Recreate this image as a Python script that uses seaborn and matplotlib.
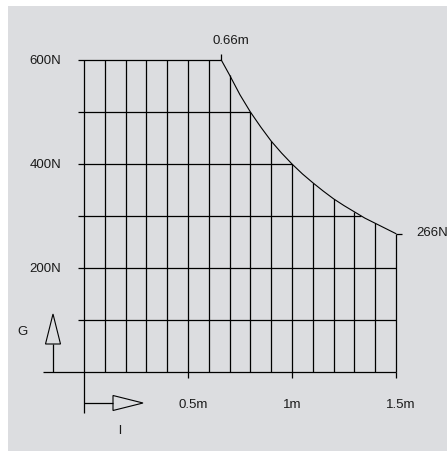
import numpy as np
import pandas as pd
import matplotlib
matplotlib.use("Agg")
import matplotlib.pyplot as plt
from matplotlib.patches import Polygon, Rectangle
import seaborn as sns

# ---- data ----
curve_l = [0.66, 0.70, 0.75, 0.80, 0.85, 0.90, 0.95, 1.00, 1.05, 1.10, 1.15,
           1.20, 1.25, 1.30, 1.35, 1.40, 1.45, 1.50]
curve_G = [600, 571, 533, 500, 471, 444, 421, 400, 381, 364, 348,
           333, 320, 308, 296, 286, 276, 266]
vgrid_x = [0.0, 0.1, 0.2, 0.3, 0.4, 0.5, 0.6, 0.7, 0.8, 0.9, 1.0, 1.1, 1.2, 1.3, 1.4, 1.5]
vgrid_top = [600, 600, 600, 600, 600, 600, 600, 571, 500, 444, 400, 364, 333, 308, 286, 266]
hgrid_y = [100, 200, 300, 400, 500, 600]
hgrid_right = [1.5, 1.5, 1.333, 1.0, 0.8, 0.66]
x_ticks = [0.5, 1.0, 1.5]
x_tick_labels = ["0.5m", "1m", "1.5m"]
y_ticks = [200, 400, 600]
y_tick_labels = ["200N", "400N", "600N"]

sns.set_style("white")
plt.rcParams['font.family'] = ['Liberation Sans', 'DejaVu Sans']

W, H = 447, 452
fig = plt.figure(figsize=(W / 100, H / 100), dpi=100)
fig.patch.set_facecolor("white")
# grey panel
fig.patches.append(Rectangle((8 / W, 0), (W - 8) / W, (H - 7) / H,
                             transform=fig.transFigure, facecolor="#dcdde0",
                             edgecolor="none", zorder=-5))

ax = fig.add_axes([0, 0, 1, 1])
ax.set_zorder(2)
ax.set_facecolor("none")
ax.patch.set_alpha(0)
X0, XS = 84, 208.0   # pixel of l=0, pixels per metre
Y0, YS = 373, 0.52   # pixel of G=0, pixels per newton

def px(x):
    return (x - X0) / XS

def py(y):
    return (Y0 - y) / YS

dx = 6 / XS
dy = 6 / YS
lc = "#000000"
lw = 0.9

# grid
ax.vlines(vgrid_x, 0, vgrid_top, color=lc, lw=lw)
ax.hlines(hgrid_y, -dx, hgrid_right, color=lc, lw=lw)
# baseline and left stub
ax.hlines(0, px(43), vgrid_x[-1], color=lc, lw=lw)
ax.vlines(0, py(414), 0, color=lc, lw=lw)
ax.vlines(x_ticks, -dy, 0, color=lc, lw=lw)
# end markers
ax.vlines(curve_l[0], curve_G[0], curve_G[0] + dy, color=lc, lw=lw)
ax.hlines(curve_G[-1], curve_l[-1], curve_l[-1] + dx, color=lc, lw=lw)

# curve
df = pd.DataFrame({"l": curve_l, "G": curve_G})
sns.lineplot(data=df, x="l", y="G", ax=ax, color=lc, lw=0.8, estimator=None, sort=True)

# G arrow
ax.vlines(px(53), 0, py(345), color=lc, lw=lw)
ax.add_patch(Polygon([(px(45.5), py(345)), (px(60.5), py(345)), (px(53), py(315))],
                     closed=True, facecolor="none", edgecolor=lc, lw=0.8))
# l arrow
ax.hlines(py(404), 0, px(113), color=lc, lw=lw)
ax.add_patch(Polygon([(px(113), py(396.5)), (px(113), py(411.5)), (px(143), py(404))],
                     closed=True, facecolor="none", edgecolor=lc, lw=0.8))

fs = 9.5
tc = "#1a1a1a"
for v, lab in zip(y_ticks, y_tick_labels):
    ax.text(px(61), v, lab, ha="right", va="center", fontsize=fs, color=tc)
for v, lab, xp in zip(x_ticks, x_tick_labels, [193, 292, 401]):
    ax.text(px(xp), py(405), lab, ha="center", va="center", fontsize=fs, color=tc)
ax.text(px(231), py(41), "0.66m", ha="center", va="center", fontsize=fs, color=tc)
ax.text(px(416), py(233), "266N", ha="left", va="center", fontsize=fs, color=tc)
ax.text(px(23), py(332), "G", ha="center", va="center", fontsize=fs, color=tc)
ax.text(px(120), py(431), "l", ha="center", va="center", fontsize=fs, color=tc)

ax.set_xlabel("")
ax.set_ylabel("")
ax.set_xlim((0 - X0) / XS, (W - X0) / XS)
ax.set_ylim((Y0 - H) / YS, (Y0 - 0) / YS)
ax.axis("off")

fig.savefig("out.png", dpi=100, facecolor=fig.get_facecolor())
